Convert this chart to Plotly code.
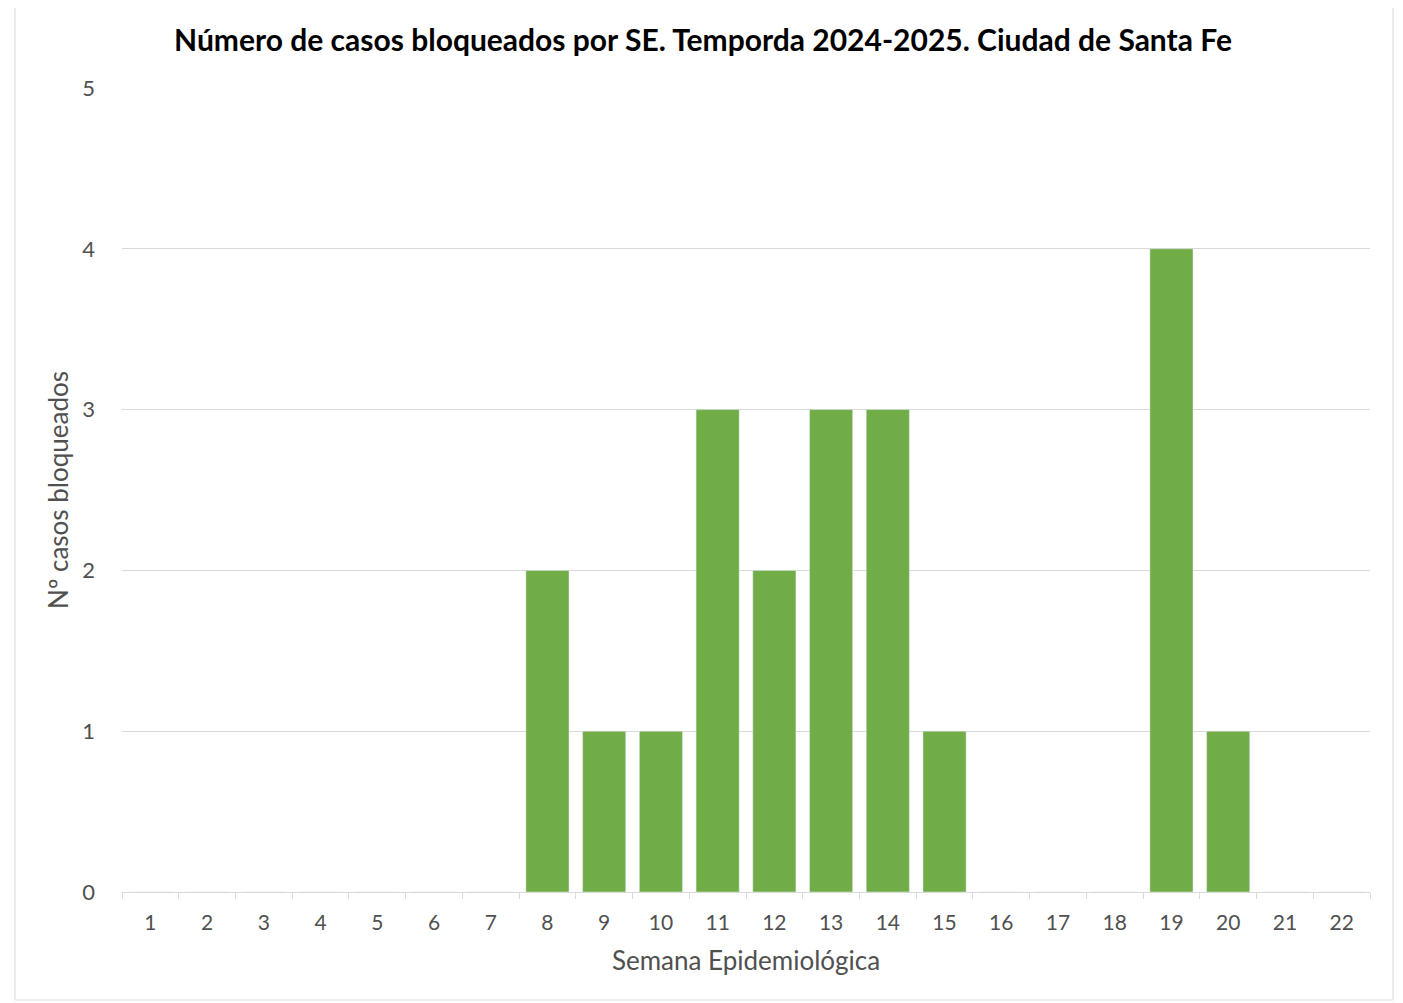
import plotly.graph_objects as go

semanas = [str(i) for i in range(1, 23)]
casos = [0, 0, 0, 0, 0, 0, 0, 2, 1, 1, 3, 2, 3, 3, 1, 0, 0, 0, 4, 1, 0, 0]
y_ticks = [0, 1, 2, 3, 4, 5]

title_text = "Número de casos bloqueados por SE. Temporda 2024-2025. Ciudad de Santa Fe"
x_title = "Semana Epidemiológica"
y_title = "Nº casos bloqueados"

OFF = 8  # page body offset
W, H = 1403, 1003
L, T = 122 - OFF, 88 - OFF
R = W - (1370 - OFF)
B = H - (892 - OFF)
pw, ph = W - L - R, H - T - B

fig = go.Figure(go.Bar(x=semanas, y=casos, marker_color="#70AD47", width=0.76))

fig.update_layout(
    width=W, height=H,
    margin=dict(l=L, r=R, t=T, b=B),
    paper_bgcolor="white", plot_bgcolor="white",
    font=dict(family="Lato", color="#595959", size=20),
    title=dict(text="<b>" + title_text + "</b>", x=(703 - OFF) / W, xanchor="center",
               y=1 - (40 - OFF) / H, yanchor="middle",
               font=dict(family="Lato", size=30, color="#000000")),
    showlegend=False,
    bargap=0.24,
)
fig.update_xaxes(
    type="category", tickson="boundaries", ticks="outside", ticklen=6,
    tickcolor="#D9D9D9", showline=True, linecolor="#D9D9D9", linewidth=1,
    showgrid=False, tickfont=dict(size=21, color="#505050"), ticklabelstandoff=12,
    title=dict(text=x_title, font=dict(size=26, color="#505050"), standoff=18),
)
fig.update_yaxes(
    range=[0, 5], tickvals=y_ticks, showgrid=True, gridcolor="#D9D9D9",
    gridwidth=1, zeroline=False, showline=False, ticks="",
    tickfont=dict(size=22, color="#505050"), ticklabelstandoff=26,
    title=dict(text=y_title, font=dict(size=26, color="#505050"), standoff=6),
)

fig.add_shape(type="rect", xref="paper", yref="paper",
              x0=(15 - OFF - L) / pw, x1=(1393 - OFF - L) / pw,
              y0=(H - B - (1000 - OFF)) / ph, y1=(H - B - (3 - OFF)) / ph,
              line=dict(color="#D9D9D9", width=1), fillcolor="rgba(0,0,0,0)",
              layer="below")

fig.write_html("out.html")
